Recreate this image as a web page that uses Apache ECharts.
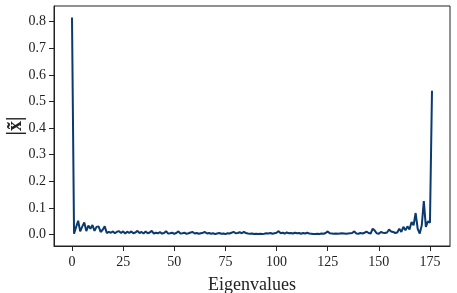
<!DOCTYPE html>
<html><head><meta charset="utf-8">
<script src="https://cdn.jsdelivr.net/npm/echarts@6/dist/echarts.min.js"></script>
<style>html,body{margin:0;padding:0;background:#fff}#c{width:457px;height:293px}</style>
</head><body><div id="c"></div>
<script>
const values = [0.815,0.003,0.028,0.052,0.012,0.030,0.046,0.013,0.034,0.022,
0.036,0.014,0.029,0.031,0.010,0.018,0.031,0.006,0.010,0.007,
0.012,0.005,0.011,0.013,0.006,0.012,0.004,0.011,0.006,0.012,
0.005,0.008,0.014,0.006,0.010,0.004,0.012,0.005,0.008,0.014,
0.004,0.007,0.005,0.009,0.004,0.006,0.013,0.004,0.005,0.007,
0.003,0.006,0.012,0.004,0.005,0.007,0.003,0.005,0.008,0.010,
0.004,0.006,0.003,0.005,0.007,0.010,0.004,0.006,0.003,0.005,
0.002,0.004,0.006,0.003,0.004,0.002,0.005,0.004,0.007,0.010,
0.005,0.006,0.009,0.005,0.010,0.006,0.004,0.003,0.004,0.002,
0.003,0.002,0.003,0.002,0.003,0.005,0.004,0.006,0.003,0.005,
0.007,0.013,0.005,0.007,0.004,0.008,0.005,0.006,0.004,0.007,
0.005,0.006,0.003,0.006,0.004,0.007,0.004,0.003,0.002,0.002,
0.003,0.002,0.004,0.003,0.006,0.012,0.005,0.004,0.003,0.004,
0.003,0.004,0.005,0.004,0.003,0.004,0.005,0.006,0.012,0.004,
0.003,0.006,0.004,0.007,0.011,0.006,0.004,0.022,0.015,0.005,
0.003,0.010,0.007,0.006,0.008,0.019,0.012,0.010,0.006,0.008,
0.022,0.010,0.029,0.016,0.031,0.019,0.047,0.035,0.081,0.022,
0.004,0.035,0.126,0.029,0.050,0.045,0.540];
const xTicks = [0,25,50,75,100,125,150,175];
const yTicks = [0.0,0.1,0.2,0.3,0.4,0.5,0.6,0.7,0.8];

const data = values.map((v,i)=>[i,v]);
const font = 'Liberation Serif';
const chart = echarts.init(document.getElementById('c'));
chart.setOption({
  animation:false,
  grid:{left:54,right:7,top:6,bottom:47,containLabel:false,outerBoundsMode:'none',show:true,borderColor:'#222',borderWidth:1,backgroundColor:'transparent'},
  xAxis:{type:'value',min:-8.8,max:184.8,
    name:'Eigenvalues',nameLocation:'middle',nameGap:30,nameMoveOverlap:false,
    nameTextStyle:{fontFamily:font,fontSize:18,color:'#222'},
    axisLine:{show:true,onZero:false,lineStyle:{color:'#222',width:1}},
    axisTick:{show:true,length:5,inside:false,customValues:xTicks,lineStyle:{color:'#222'}},
    axisLabel:{customValues:xTicks,margin:9,fontFamily:font,fontSize:14,color:'#222',formatter:v=>String(v)},
    splitLine:{show:false}},
  yAxis:{type:'value',min:-0.0428,max:0.8586,
    name:'|x\u0303|',nameLocation:'middle',nameGap:28,nameRotate:90,nameMoveOverlap:false,
    nameTextStyle:{fontFamily:font,fontSize:20,fontWeight:'bold',color:'#222'},
    axisLine:{show:true,onZero:false,lineStyle:{color:'#222',width:1}},
    axisTick:{show:true,length:5,inside:false,customValues:yTicks,lineStyle:{color:'#222'}},
    axisLabel:{customValues:yTicks,margin:8,fontFamily:font,fontSize:14,color:'#222',formatter:v=>v.toFixed(1)},
    splitLine:{show:false}},
  series:[{type:'line',data:data,showSymbol:false,symbol:'none',
    lineStyle:{color:'#0b3a6e',width:2},itemStyle:{color:'#0b3a6e'}}]
});
</script></body></html>
